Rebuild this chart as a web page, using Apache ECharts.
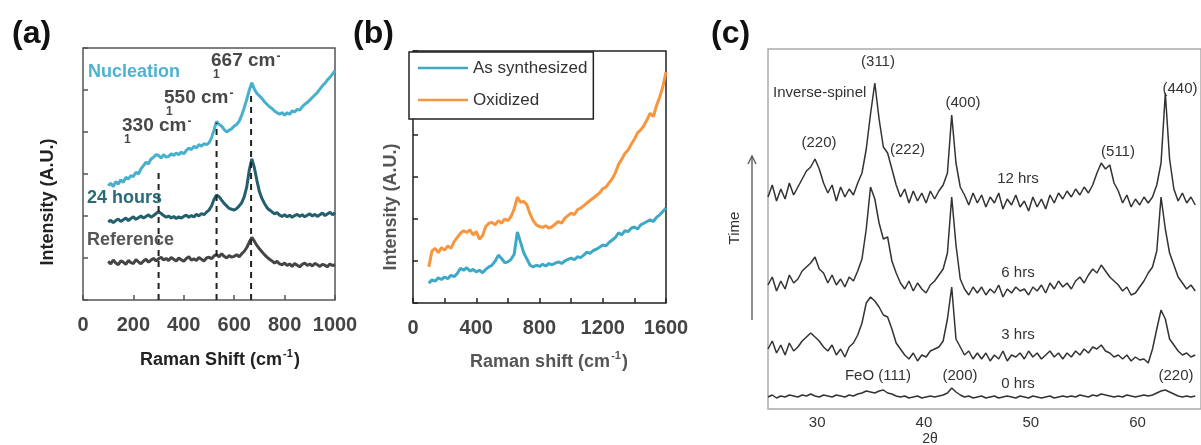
<!DOCTYPE html>
<html><head><meta charset="utf-8">
<script src="https://cdn.jsdelivr.net/npm/echarts@6/dist/echarts.min.js"></script>
<style>html,body{margin:0;padding:0;background:#fff}#c{width:1201px;height:445px}</style>
</head><body><div id="c"></div>
<script>
// ---------- Panel (a): Raman, sampled from 100 cm-1 every 10 cm-1 ----------
const ramanAStart = 100, ramanAStep = 10;
const ramanATicks = [0, 200, 400, 600, 800, 1000];
const refA = [
 0.92,0.86,0.95,0.88,0.84,0.93,0.90,0.85,0.94,0.89, 0.87,0.96,0.91,0.86,0.93,0.97,0.90,0.95,0.99,0.93,
 0.98,1.02,0.95,0.99,0.94,1.01,0.97,0.93,1.00,0.96, 0.92,0.99,1.03,0.95,0.98,0.94,1.01,0.97,0.93,1.00,
 1.02,0.98,1.05,1.08,1.03,1.10,1.04,1.00,1.06,1.02,
 1.04,1.08,1.03,1.10,1.16,1.25,1.38,1.49,1.40,1.30,
 1.22,1.15,1.08,1.02,0.97,0.93,0.88,0.92,0.86,0.84,
 0.88,0.82,0.86,0.80,0.87,0.83,0.79,0.85,0.88,0.82,
 0.86,0.81,0.87,0.84,0.80,0.85,0.83,0.79,0.86,0.82,0.84];
const h24A = [
 1.86,1.90,1.84,1.89,1.93,1.87,1.91,1.95,1.89,1.94, 1.98,1.92,1.96,2.00,1.95,1.99,2.03,1.97,2.01,2.06,
 2.10,2.06,2.01,1.97,2.00,1.95,1.99,1.94,1.98,1.95, 1.99,2.02,1.97,2.01,1.98,2.04,2.00,2.06,2.03,2.09,
 2.14,2.24,2.40,2.50,2.46,2.38,2.30,2.24,2.18,2.16,
 2.14,2.18,2.24,2.32,2.46,2.70,3.10,3.36,3.15,2.85,
 2.58,2.42,2.30,2.20,2.14,2.10,2.05,2.08,2.02,1.99,
 2.03,1.98,2.02,1.97,2.01,2.04,1.99,2.03,1.98,2.02,
 2.05,2.00,2.04,1.99,2.03,2.07,2.01,2.05,2.09,2.03,2.08];
const nucA = [
 2.72,2.78,2.70,2.82,2.76,2.86,2.80,2.92,2.88,2.96, 2.94,3.04,3.00,3.12,3.20,3.28,3.24,3.36,3.40,3.46,
 3.44,3.38,3.46,3.40,3.42,3.48,3.44,3.50,3.46,3.52, 3.48,3.56,3.62,3.58,3.66,3.62,3.70,3.66,3.72,3.70,
 3.74,3.86,4.05,4.25,4.18,4.14,4.06,4.00,4.04,4.08,
 4.14,4.18,4.26,4.40,4.58,4.78,5.00,5.17,5.02,4.92,
 4.86,4.80,4.72,4.66,4.60,4.56,4.50,4.46,4.42,4.46,
 4.40,4.46,4.42,4.50,4.48,4.54,4.52,4.60,4.66,4.70,
 4.76,4.82,4.88,4.94,5.02,5.10,5.16,5.24,5.30,5.38,5.46];
const peakLinesX = [300, 530, 667];
const peakLinesTop = [3.05, 4.22, 4.95];

// ---------- Panel (b): Raman, sampled from 100 cm-1 every 20 cm-1 ----------
const ramanBStart = 100, ramanBStep = 20;
const asSynB = [
 0.47,0.55,0.52,0.60,0.56,0.62,0.58,0.66,0.63,0.70,
 0.83,0.78,0.84,0.76,0.80,0.74,0.78,0.72,0.80,0.86,
 0.90,1.00,1.14,1.06,0.96,0.98,1.04,1.16,1.69,1.45,
 1.20,1.05,0.90,0.86,0.90,0.87,0.92,0.88,0.94,0.91,
 0.95,0.98,0.94,1.00,1.04,1.07,1.03,1.10,1.08,1.14,
 1.21,1.18,1.25,1.28,1.33,1.38,1.36,1.44,1.50,1.56,
 1.67,1.62,1.72,1.70,1.78,1.81,1.76,1.86,1.90,1.94,
 1.98,1.94,2.04,2.10,2.18,2.26];
const oxidB = [
 0.86,1.24,1.30,1.20,1.32,1.26,1.36,1.30,1.46,1.56,
 1.66,1.72,1.68,1.74,1.62,1.70,1.52,1.60,1.82,1.90,
 1.92,1.86,1.96,1.90,2.00,1.96,2.06,2.24,2.52,2.40,
 2.42,2.34,2.12,1.96,1.86,1.82,1.80,1.84,1.78,1.82,
 1.88,1.94,1.90,2.02,2.08,2.14,2.10,2.22,2.26,2.32,
 2.38,2.44,2.50,2.56,2.62,2.72,2.76,2.86,2.96,3.10,
 3.30,3.42,3.56,3.64,3.78,3.90,4.05,4.12,4.22,4.36,
 4.52,4.44,4.70,4.90,5.15,5.50];

// ---------- Panel (c): XRD, sampled from 25.4 deg every 0.4 deg ----------
const xrdStart = 25.4, xrdStep = 0.4;
const xrdTicks = [30, 40, 50, 60];
const xrd12 = [
 21.2,22.4,20.8,22.0,21.0,22.6,21.4,22.2,23.0,23.8,
 24.2,25.0,24.0,22.6,21.6,22.4,20.8,22.2,21.2,22.0,
 21.4,22.6,23.6,26.0,29.5,32.6,29.0,26.2,25.6,24.0,
 22.4,21.2,22.0,20.6,21.8,20.8,21.6,20.6,21.8,21.0,
 21.8,22.4,23.6,29.4,24.6,22.2,21.4,20.4,21.6,20.6,
 21.4,20.2,21.2,20.6,21.6,20.0,21.0,20.4,21.4,20.2,
 20.8,19.8,21.2,20.2,21.0,20.0,21.4,20.6,21.6,21.0,
 21.8,21.2,22.0,21.4,22.2,21.6,22.4,23.6,24.6,24.0,
 24.4,22.6,21.8,20.6,21.4,20.2,21.0,20.4,21.2,20.6,
 21.2,22.4,24.6,31.6,25.0,22.0,20.8,21.6,20.6,21.2,20.4];
const xrd6 = [
 12.4,13.2,11.8,12.8,12.0,13.4,12.6,13.0,13.8,14.2,
 14.6,15.2,14.0,13.6,12.6,13.4,12.4,13.0,12.2,13.2,
 12.8,13.8,15.0,18.0,22.2,21.0,18.6,17.0,17.2,14.8,
 13.6,12.6,12.0,12.8,11.8,12.6,12.0,11.6,12.4,12.8,
 13.4,14.0,15.6,21.2,16.4,13.0,12.0,11.4,12.2,11.6,
 12.2,11.4,12.0,11.6,12.4,11.2,12.0,11.6,12.2,11.8,
 12.0,11.4,12.2,11.8,12.4,11.6,12.6,12.0,12.8,12.2,
 12.6,12.0,12.8,13.2,12.6,13.4,14.0,13.6,14.4,13.8,
 13.2,12.8,12.4,11.8,12.2,11.4,11.6,12.2,12.8,13.6,
 14.2,15.8,21.2,18.0,15.6,14.4,13.2,12.6,12.0,12.4,11.8];
const xrd3 = [
 6.0,6.8,5.6,6.4,5.4,6.6,5.8,6.2,6.8,7.2,
 7.6,7.2,6.8,6.2,5.8,6.4,5.4,6.0,5.2,6.2,
 6.6,7.4,8.6,10.6,11.2,10.8,10.2,9.4,9.2,8.0,
 6.6,6.0,5.4,5.0,5.6,4.8,5.4,5.2,5.8,6.0,
 6.2,6.8,9.0,12.2,7.0,6.2,5.4,5.8,5.0,5.6,
 5.0,5.6,4.8,5.4,5.0,5.8,4.8,5.4,5.2,5.6,
 5.0,5.8,5.2,5.6,5.0,5.4,5.8,5.2,5.6,5.0,
 5.6,5.2,5.8,5.4,6.0,5.6,6.2,6.0,6.4,5.8,
 5.6,5.2,5.4,5.0,5.4,4.8,5.2,4.9,5.0,4.6,
 6.0,8.0,9.9,9.0,7.0,6.4,5.8,5.4,5.6,5.2,5.4];
const xrd0 = [
 1.2,1.4,1.1,1.3,1.2,1.4,1.3,1.2,1.4,1.3,
 1.5,1.3,1.2,1.4,1.3,1.2,1.4,1.3,1.2,1.4,
 1.3,1.5,1.6,1.8,1.7,1.6,1.8,1.9,1.6,1.5,
 1.3,1.2,1.3,1.1,1.2,1.3,1.1,1.2,1.3,1.2,
 1.3,1.4,1.6,2.1,1.7,1.4,1.2,1.3,1.1,1.2,
 1.3,1.1,1.2,1.3,1.1,1.2,1.3,1.2,1.1,1.3,
 1.2,1.1,1.3,1.2,1.1,1.2,1.3,1.1,1.2,1.3,
 1.2,1.3,1.2,1.4,1.3,1.2,1.4,1.3,1.5,1.4,
 1.3,1.2,1.3,1.2,1.4,1.3,1.2,1.3,1.4,1.3,
 1.4,1.6,1.8,1.9,1.7,1.5,1.3,1.2,1.3,1.2,1.3];

// ---------- helpers ----------
const F = '"Liberation Sans", Arial, sans-serif';
function pairs(start, step, arr) { return arr.map((v, i) => [+(start + step * i).toFixed(2), v]); }
const mctx = document.createElement('canvas').getContext('2d');
function measure(t, size, weight) { mctx.font = weight + ' ' + size + 'px ' + F; return mctx.measureText(t).width; }
function txt(x, y, text, size, weight, fill, align, va, rot) {
  return { type: 'text', x: x, y: y, rotation: rot || 0, silent: true, z: 100,
    style: { text: text, fontSize: size, fontWeight: weight, fontFamily: F, fill: fill,
             align: align || 'left', verticalAlign: va || 'middle' } };
}
function supTitle(cx, y, main, sup, tail, size, weight, fill) {
  const ss = Math.round(size * 0.6);
  const w1 = measure(main, size, weight), w2 = measure(sup, ss, weight), w3 = measure(tail, size, weight);
  const x0 = cx - (w1 + w2 + w3) / 2;
  return [txt(x0, y, main, size, weight, fill), txt(x0 + w1 + 1, y - 6, sup, ss, weight, fill),
          txt(x0 + w1 + w2 + 2, y, tail, size, weight, fill)];
}
function peakNote(x, y, main) {
  const w = measure(main, 19, 'bold');
  return [txt(x, y, main, 19, 'bold', '#474747'), txt(x + w + 1, y - 4, '-', 12, 'bold', '#474747'),
          txt(x + 2, y + 14, '1', 12, 'bold', '#474747')];
}

const gfx = [].concat(
  txt(12, 34, '(a)', 32, 'bold', '#111'),
  txt(353, 34, '(b)', 32, 'bold', '#111'),
  txt(711, 34, '(c)', 32, 'bold', '#111'),
  // panel a
  txt(48, 202, 'Intensity (A.U.)', 18, 'bold', '#222', 'center', 'middle', Math.PI / 2),
  supTitle(219, 360, 'Raman Shift (cm', '-1', ')', 18, 'bold', '#222'),
  txt(88, 72, 'Nucleation', 18, 'bold', '#4db3d0'),
  peakNote(211, 61, '667 cm'),
  peakNote(164, 98, '550 cm'),
  peakNote(122, 126, '330 cm'),
  txt(87, 198, '24 hours', 18, 'bold', '#2a6a7a'),
  txt(87, 240, 'Reference', 18, 'bold', '#555'),
  // panel b
  txt(391, 207, 'Intensity (A.U.)', 18, 'bold', '#555', 'center', 'middle', Math.PI / 2),
  supTitle(548, 362, 'Raman shift (cm', '-1', ')', 18, 'bold', '#555'),
  // panel c
  txt(735, 228, 'Time', 15, 'normal', '#333', 'center', 'middle', Math.PI / 2),
  { type: 'line', silent: true, shape: { x1: 752, y1: 157, x2: 752, y2: 320 }, style: { stroke: '#555', lineWidth: 1.3 } },
  { type: 'polyline', silent: true, shape: { points: [[748, 164], [752, 156], [756, 164]] }, style: { stroke: '#555', lineWidth: 1.3, fill: null } },
  txt(930, 439, '2θ', 14, 'normal', '#333', 'center'),
  txt(878, 62, '(311)', 15, 'normal', '#333', 'center'),
  txt(773, 93, 'Inverse-spinel', 15, 'normal', '#333', 'left'),
  txt(963, 103, '(400)', 15, 'normal', '#333', 'center'),
  txt(819, 143, '(220)', 15, 'normal', '#333', 'center'),
  txt(890, 150, '(222)', 15, 'normal', '#333', 'left'),
  txt(1118, 152, '(511)', 15, 'normal', '#333', 'center'),
  txt(1180, 89, '(440)', 15, 'normal', '#333', 'center'),
  txt(1018, 179, '12 hrs', 15, 'normal', '#333', 'center'),
  txt(1018, 273, '6 hrs', 15, 'normal', '#333', 'center'),
  txt(1018, 335, '3 hrs', 15, 'normal', '#333', 'center'),
  txt(878, 376, 'FeO (111)', 15, 'normal', '#333', 'center'),
  txt(960, 376, '(200)', 15, 'normal', '#333', 'center'),
  txt(1018, 384, '0 hrs', 15, 'normal', '#333', 'center'),
  txt(1176, 376, '(220)', 15, 'normal', '#333', 'center')
);

function lineSeries(name, xi, data, color, width) {
  return { type: 'line', name: name, xAxisIndex: xi, yAxisIndex: xi, data: data, color: color,
           symbol: 'none', showSymbol: false, lineStyle: { color: color, width: width }, z: 3 };
}
const series = [
  lineSeries('Reference', 0, pairs(ramanAStart, ramanAStep, refA), '#454545', 3),
  lineSeries('24 hours', 0, pairs(ramanAStart, ramanAStep, h24A), '#245f6d', 3),
  lineSeries('Nucleation', 0, pairs(ramanAStart, ramanAStep, nucA), '#48afcc', 3)
].concat(peakLinesX.map((x, i) => ({
  type: 'line', name: 'peak' + i, xAxisIndex: 0, yAxisIndex: 0, symbol: 'none', z: 4,
  data: [[x, 0], [x, peakLinesTop[i]]], lineStyle: { color: '#222', width: 2, type: [6, 5] }
}))).concat([
  lineSeries('As synthesized', 1, pairs(ramanBStart, ramanBStep, asSynB), '#3ea9c7', 3),
  lineSeries('Oxidized', 1, pairs(ramanBStart, ramanBStep, oxidB), '#f7963f', 3),
  lineSeries('0 hrs', 2, pairs(xrdStart, xrdStep, xrd0), '#333', 1.5),
  lineSeries('3 hrs', 2, pairs(xrdStart, xrdStep, xrd3), '#333', 1.5),
  lineSeries('6 hrs', 2, pairs(xrdStart, xrdStep, xrd6), '#333', 1.5),
  lineSeries('12 hrs', 2, pairs(xrdStart, xrdStep, xrd12), '#333', 1.5)
]);

const tickStyle = c => ({ show: true, inside: true, length: 5, lineStyle: { color: c, width: 1.5 } });
const option = {
  animation: false,
  backgroundColor: '#fff',
  grid: [
    { left: 83, top: 48, width: 252, height: 252, show: true, borderColor: '#555', borderWidth: 1.5, backgroundColor: 'transparent' },
    { left: 413, top: 51, width: 253, height: 252, show: true, borderColor: '#222', borderWidth: 1.5, backgroundColor: 'transparent' },
    { left: 768, top: 49, width: 450, height: 360, show: true, borderColor: '#aaa', borderWidth: 1.5, backgroundColor: 'transparent' }
  ],
  xAxis: [
    { gridIndex: 0, type: 'value', min: ramanATicks[0], max: ramanATicks[ramanATicks.length - 1], interval: 200,
      axisLine: { show: false }, axisTick: tickStyle('#555'), splitLine: { show: false },
      axisLabel: { fontFamily: F, fontWeight: 'bold', fontSize: 20, color: '#444', margin: 15,
                   formatter: v => String(v) } },
    { gridIndex: 1, type: 'value', min: 0, max: 1600, interval: 200,
      axisLine: { show: false }, axisTick: tickStyle('#222'), splitLine: { show: false },
      axisLabel: { fontFamily: F, fontWeight: 'bold', fontSize: 20, color: '#444', margin: 15,
                   formatter: v => (v % 400 === 0 ? String(v) : '') } },
    { gridIndex: 2, type: 'value', min: xrdStart, max: xrdStart + 450 / 11.1,
      axisLine: { show: false }, axisTick: { show: false }, splitLine: { show: false },
      axisLabel: { customValues: xrdTicks, fontFamily: F, fontSize: 15, color: '#333', margin: 6 } }
  ],
  yAxis: [
    { gridIndex: 0, type: 'value', min: 0, max: 6, interval: 1, axisLabel: { show: false },
      axisLine: { show: false }, axisTick: tickStyle('#555'), splitLine: { show: false } },
    { gridIndex: 1, type: 'value', min: 0, max: 6, interval: 1, axisLabel: { show: false },
      axisLine: { show: false }, axisTick: tickStyle('#222'), splitLine: { show: false } },
    { gridIndex: 2, type: 'value', min: 0, max: 36, axisLabel: { show: false },
      axisLine: { show: false }, axisTick: { show: false }, splitLine: { show: false } }
  ],
  legend: {
    data: ['As synthesized', 'Oxidized'], left: 409, top: 52, orient: 'vertical',
    icon: 'rect', itemWidth: 50, itemHeight: 2.5, itemGap: 12, padding: [6, 6, 9, 9],
    borderColor: '#222', borderWidth: 1.5, backgroundColor: '#fff', borderRadius: 0,
    textStyle: { fontFamily: F, fontSize: 17, color: '#333', lineHeight: 20 }
  },
  graphic: gfx,
  series: series
};
const chart = echarts.init(document.getElementById('c'), null, { renderer: 'canvas' });
chart.setOption(option);
</script></body></html>
